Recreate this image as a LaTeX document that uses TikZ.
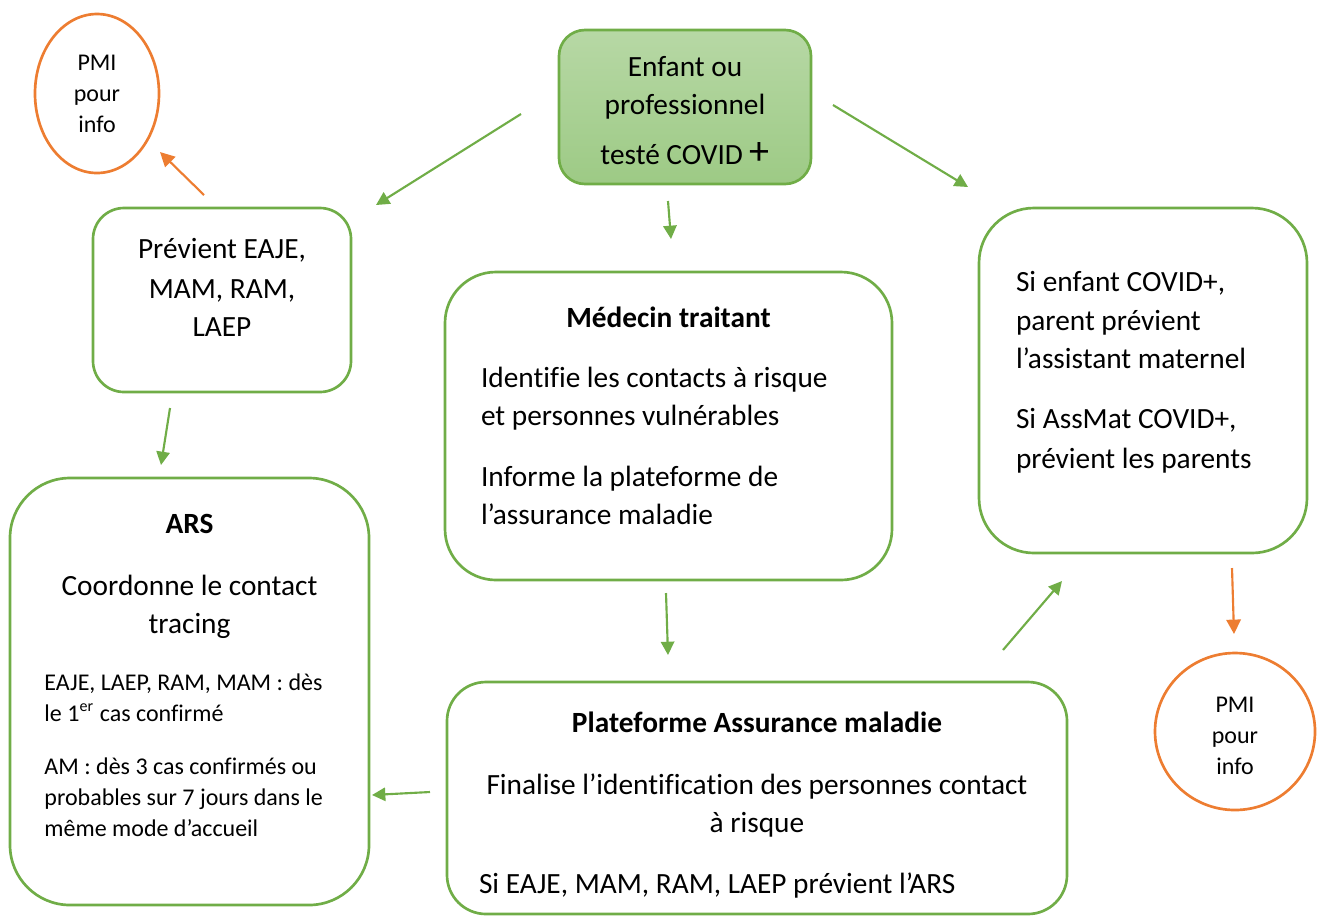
\documentclass[tikz,border=0pt]{standalone}
\usepackage{fontspec}
\setmainfont{Carlito}[Ligatures=NoCommon]
\usetikzlibrary{arrows.meta,shapes.geometric}

\definecolor{boxgreen}{HTML}{70AD47}
\definecolor{pmiorange}{HTML}{ED7D31}
\definecolor{filltop}{HTML}{B7D8A5}
\definecolor{fillbot}{HTML}{9DCA85}

\tikzset{
  box/.style={draw=boxgreen, line width=1pt, inner sep=0pt,
    font=\fontsize{11}{14.25}\selectfont},
  boxsize/.style 2 args={minimum width=#1*0.375pt, minimum height=#2*0.375pt},
  corner/.style={rounded corners=#1*0.375pt},
  wide/.style={text width=#1*0.375pt},
  pmi/.style={ellipse, draw=pmiorange, line width=1pt, inner sep=0pt,
    align=flush center, text width=24pt, font=\fontsize{9}{11.6}\selectfont},
  garrow/.style={-{Triangle[length=5pt,width=5pt]}, color=boxgreen, line width=0.8pt},
  oarrow/.style={-{Triangle[length=5.4pt,width=5.4pt]}, color=pmiorange, line width=0.8pt}
}

\begin{document}
\begin{tikzpicture}[x=0.375pt, y=-0.375pt]
\useasboundingbox (0,0) rectangle (1323,916);

% the boxes
\node (covid) [box, boxsize={252}{154}, corner=26, wide=230, align=flush center,
  top color=filltop, bottom color=fillbot] at (685,107)
  {Enfant ou\\professionnel\\[4.2pt]testé COVID {\fontsize{15}{15}\selectfont +}\par\kern-2.6pt};

\node (prev) [box, boxsize={258}{184}, corner=31, wide=220, align=flush center] at (222,300)
  {Prévient EAJE,\\[0.8pt]MAM, RAM,\\LAEP\par\kern9.75pt};

\node (medecin) [box, boxsize={447}{308}, corner=51, wide=375, align=flush left] at (668.5,426)
  {\hfill\textbf{Médecin traitant}\hfill\null\\[8.25pt]
   Identifie les contacts à risque\\
   et personnes vulnérables\\[8.6pt]
   Informe la plateforme de\\
   l’assurance maladie\par\kern7.5pt};

\node (parent) [box, boxsize={328}{345}, corner=55, wide=254, align=flush left] at (1143,380.5)
  {Si enfant COVID+,\\[0.3pt]parent prévient\\l’assistant maternel\\[8.3pt]
   Si AssMat COVID+,\\[0.9pt]prévient les parents\par\kern6pt};

\node (ars) [box, boxsize={359}{427}, corner=60, wide=290, align=flush left] at (189.5,691.5)
  {\hfill\textbf{ARS}\hfill\null\\[9pt]
   \hfill Coordonne le contact\hfill\null\\
   \hfill tracing\hfill\null\\[9.8pt]
   \fontsize{9}{11.6}\selectfont
   EAJE, LAEP, RAM, MAM : dès\\
   le 1\textsuperscript{er} cas confirmé\\[8.3pt]
   AM : dès 3 cas confirmés ou\\
   probables sur 7 jours dans le\\
   même mode d’accueil\par\kern12pt};

\node (plate) [box, boxsize={620}{232}, corner=39, wide=556, align=flush left] at (757,798)
  {\hfill\textbf{Plateforme Assurance maladie}\hfill\null\\[9pt]
   \hfill Finalise l’identification des personnes contact\hfill\null\\
   \hfill à risque\hfill\null\\[8.6pt]
   Si EAJE, MAM, RAM, LAEP prévient l’ARS\par\kern-5.25pt};

% PMI
\node (pmitop) [pmi, boxsize={124}{159}] at (97,93.5) {PMI\\pour\\info};
\node (pmibot) [pmi, boxsize={160}{157}] at (1235,731.5) {PMI\\pour\\info\par\kern-3pt};

% arrow ends
\coordinate (covid-l) at (521,114);   \coordinate (prev-in) at (376,205);
\coordinate (covid-r) at (833,105);   \coordinate (parent-in) at (968,187);
\coordinate (covid-b) at (668,201);   \coordinate (medecin-in) at (671,239);
\coordinate (prev-b) at (170,408);    \coordinate (ars-in) at (161,465);
\coordinate (medecin-b) at (666,593); \coordinate (plate-in) at (668,655);
\coordinate (plate-l) at (430,792);   \coordinate (ars-r) at (372,795);
\coordinate (plate-r) at (1003,650);  \coordinate (parent-b) at (1062,581);
\coordinate (prev-t) at (204,195);    \coordinate (pmitop-in) at (160,152);
\coordinate (parent-o) at (1232,568); \coordinate (pmibot-in) at (1234,634);

\begin{scope}
  \path [garrow] (covid-l) edge (prev-in);
  \path [garrow] (covid-r) edge (parent-in);
  \path [garrow] (covid-b) edge (medecin-in);
  \path [garrow] (prev-b) edge (ars-in);
  \path [garrow] (medecin-b) edge (plate-in);
  \path [garrow] (plate-l) edge (ars-r);
  \path [garrow] (plate-r) edge (parent-b);
  \path [oarrow] (prev-t) edge (pmitop-in);
  \path [oarrow] (parent-o) edge (pmibot-in);
\end{scope}
\end{tikzpicture}
\end{document}
